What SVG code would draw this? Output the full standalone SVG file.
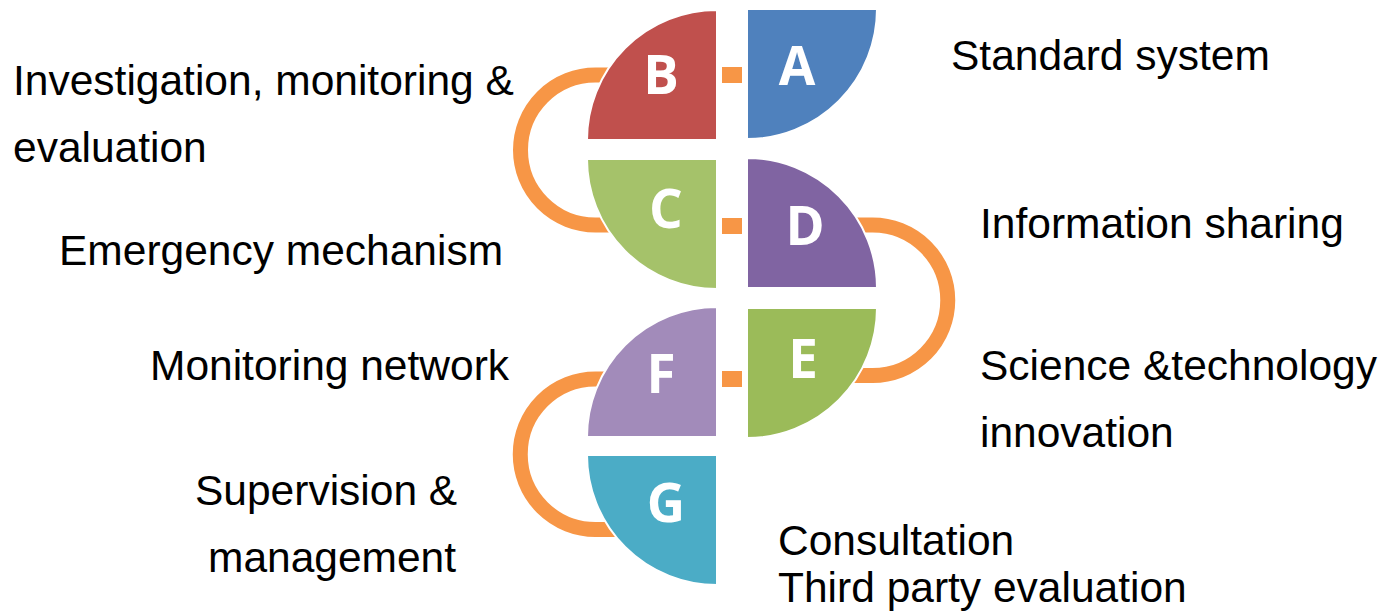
<svg xmlns="http://www.w3.org/2000/svg" width="1380" height="612" viewBox="0 0 1380 612">
<style>
.q{stroke:#FFFFFF;stroke-width:2;stroke-linejoin:miter}
.l{font-family:"Open Sans","DejaVu Sans",sans-serif;font-weight:700;font-size:53px;fill:#FFFFFF;text-anchor:middle}
.t{font-family:"Liberation Sans",Arial,sans-serif;font-size:42.5px;fill:#000000}
.arc{fill:none;stroke:#F79646;stroke-width:15}
.sq{fill:#F79646}
</style>
<rect width="1380" height="612" fill="#FFFFFF"/>
<g id="connectors">
<path class="arc" d="M625,75 H595.5 A75,75 0 0 0 595.5,225 H625"/>
<path class="arc" d="M845,225 H872.5 A75.25,75.25 0 0 1 872.5,375.5 H845"/>
<path class="arc" d="M625,379 H595.5 A75,75 0 0 0 595.5,529.5 H625"/>
<rect class="sq" x="722" y="67" width="20" height="16"/>
<rect class="sq" x="722" y="218" width="20" height="16"/>
<rect class="sq" x="722" y="371" width="20" height="16"/>
</g>
<g id="node-A">
<path class="q" fill="#4F81BD" d="M747,9 H877 A130,130 0 0 1 747,139 Z"/>
<text class="l" x="797" y="85">A</text>
</g>
<g id="node-B">
<path class="q" fill="#C0504D" d="M717,140 H587 A130,130 0 0 1 717,10 Z"/>
<text class="l" x="661" y="94">B</text>
</g>
<g id="node-C">
<path class="q" fill="#A5C26A" d="M717,159 V289 A130,130 0 0 1 587,159 Z"/>
<text class="l" x="666" y="228">C</text>
</g>
<g id="node-D">
<path class="q" fill="#8064A2" d="M747,288 V158 A130,130 0 0 1 877,288 Z"/>
<text class="l" x="805" y="245">D</text>
</g>
<g id="node-E">
<path class="q" fill="#9BBB59" d="M747,308 H877 A130,130 0 0 1 747,438 Z"/>
<text class="l" x="803" y="378">E</text>
</g>
<g id="node-F">
<path class="q" fill="#A28BBA" d="M717,437 H587 A130,130 0 0 1 717,307 Z"/>
<text class="l" x="661" y="393">F</text>
</g>
<g id="node-G">
<path class="q" fill="#4BACC6" d="M717,455 V585 A130,130 0 0 1 587,455 Z"/>
<text class="l" x="666" y="522">G</text>
</g>
<g id="labels">
<text class="t" x="951" y="70">Standard system</text>
<text class="t" x="13" y="95">Investigation, monitoring &amp;</text>
<text class="t" x="13" y="162">evaluation</text>
<text class="t" x="59" y="265">Emergency mechanism</text>
<text class="t" x="980" y="238">Information sharing</text>
<text class="t" x="980" y="380">Science &amp;technology</text>
<text class="t" x="980" y="447">innovation</text>
<text class="t" x="150" y="380">Monitoring network</text>
<text class="t" x="195" y="505">Supervision &amp;</text>
<text class="t" x="208" y="572">management</text>
<text class="t" x="778" y="555">Consultation</text>
<text class="t" x="778" y="602">Third party evaluation</text>
</g>
</svg>
